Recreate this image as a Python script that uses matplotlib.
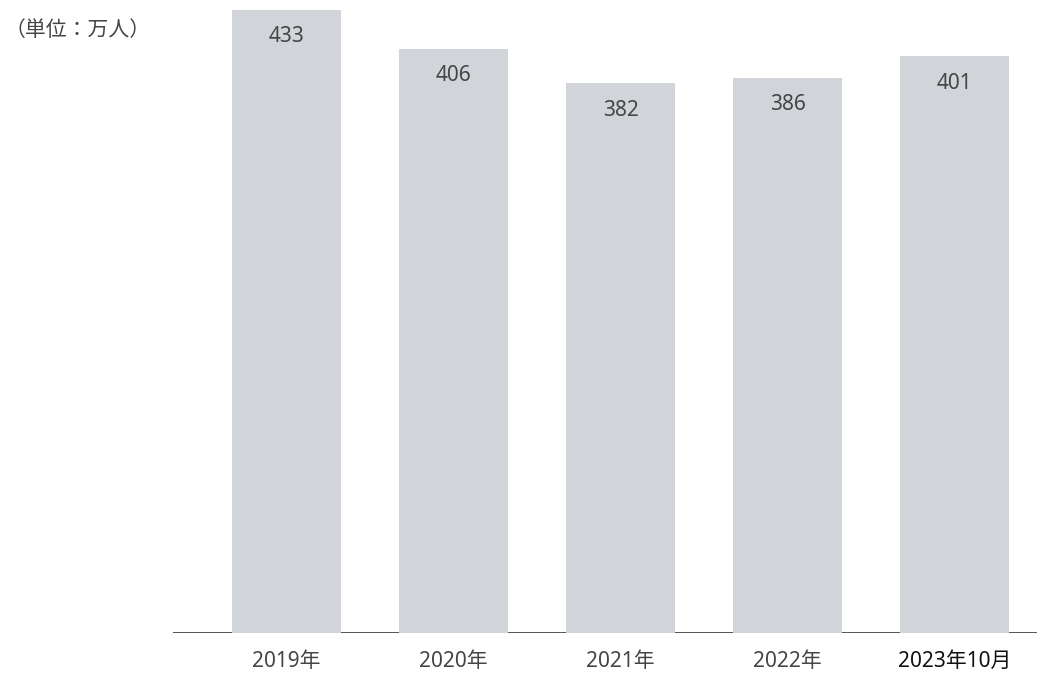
import matplotlib.pyplot as plt

plt.rcParams['font.family'] = ['Noto Sans', 'Noto Sans CJK JP', 'DejaVu Sans']

# 訪日関連の人数（万人）
years = ["2019年", "2020年", "2021年", "2022年", "2023年10月"]
values = [433, 406, 382, 386, 401]

BAR_COLOR = "#d1d5da"
TEXT_COLOR = "#454545"

fig = plt.figure(figsize=(10.54, 6.73), dpi=100)
ax = fig.add_axes([173 / 1054, 40 / 673, (1037 - 173) / 1054, 623 / 673])

x = range(len(years))
ax.bar(x, values, width=0.653, color=BAR_COLOR, zorder=3)
ax.axhline(0, color="#555555", linewidth=1.4, zorder=1)

# 値ラベルは棒の上端の少し下に置く
for i, v in zip(x, values):
    ax.annotate(str(v), xy=(i, v), xytext=(0, -27), textcoords="offset pixels",
                ha="center", va="center", fontsize=15, color=TEXT_COLOR, zorder=4)

ax.set_xlim(-0.68, 4.494)
ax.set_ylim(0, 433)
ax.set_xticks(list(x))
ax.set_xticklabels(years, fontsize=15, color=TEXT_COLOR)
ax.get_xticklabels()[-1].set_color("#111111")
ax.tick_params(axis="x", length=0, pad=13)
ax.set_yticks([])
for s in ax.spines.values():
    s.set_visible(False)

fig.text(5 / 1054, 1 - 30 / 673, "（単位：万人）", fontsize=15, color=TEXT_COLOR,
         ha="left", va="center")

fig.savefig("out.png", dpi=100)
